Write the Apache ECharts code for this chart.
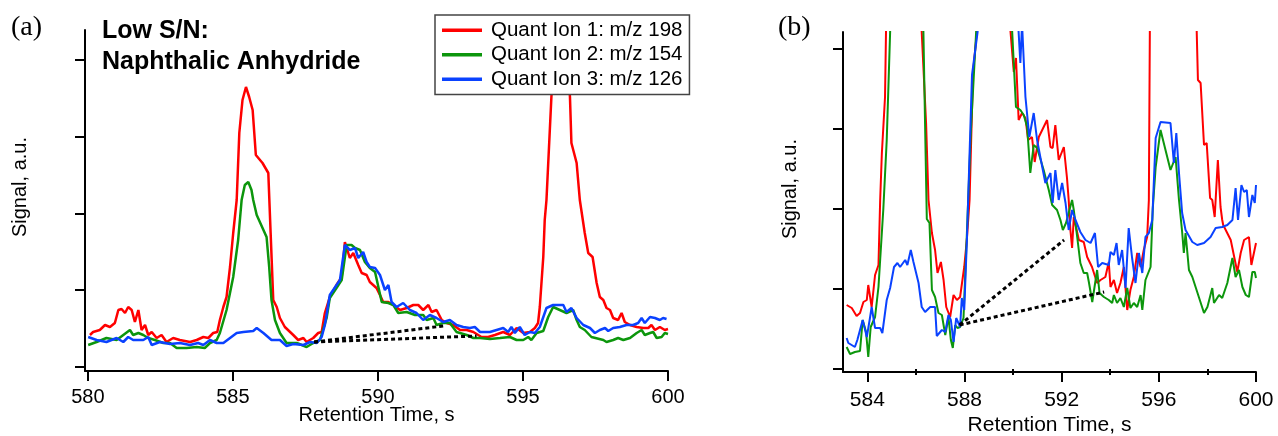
<!DOCTYPE html>
<html>
<head>
<meta charset="utf-8">
<script src="https://cdn.jsdelivr.net/npm/echarts@6/dist/echarts.min.js"></script>
<style>html,body{margin:0;padding:0;background:#fff;}#c{width:1278px;height:436px;}</style>
</head>
<body>
<div id="c"></div>
<script>
// ---------- data ----------
const seriesNames = ['Quant Ion 1: m/z 198', 'Quant Ion 2: m/z 154', 'Quant Ion 3: m/z 126'];
const aXTicks = [580, 585, 590, 595, 600];
const aYTicks = [0, 77, 153, 230, 307];
const bXTicks = [584, 588, 592, 596, 600];
const bXMinorTicks = [586, 590, 594, 598];
const bYTicks = [0, 80, 160, 240, 320];

// panel (a): [retention time s, signal a.u.]
const aRed = [[580.07,32],[580.18,35],[580.41,37],[580.59,42],[580.76,40],[580.93,44],[581.05,57],[581.16,58],[581.28,54],[581.39,60],[581.51,57],[581.62,45],[581.74,57],[581.85,37],[581.97,42],[582.08,32],[582.2,35],[582.37,29],[582.54,32],[582.71,25],[582.94,29],[583.17,27],[583.52,25],[583.75,27],[583.98,30],[584.15,29],[584.32,34],[584.46,35],[584.55,47],[584.67,60],[584.78,70],[584.9,100],[585.01,134],[585.13,167],[585.22,234],[585.33,267],[585.45,280],[585.56,270],[585.68,257],[585.79,212],[586.02,204],[586.22,194],[586.3,134],[586.39,67],[586.51,60],[586.62,49],[586.79,40],[587.08,32],[587.25,27],[587.43,29],[587.54,25],[587.77,29],[587.94,34],[588.06,35],[588.17,54],[588.34,70],[588.57,82],[588.75,90],[588.86,125],[589.03,109],[589.15,114],[589.32,102],[589.44,94],[589.61,92],[589.72,85],[589.95,79],[590.07,72],[590.18,65],[590.36,65],[590.53,62],[590.76,57],[590.99,59],[591.22,62],[591.39,62],[591.56,57],[591.74,62],[591.85,55],[592.02,57],[592.2,47],[592.37,44],[592.6,42],[592.83,37],[593.06,37],[593.29,35],[593.57,30],[593.8,30],[594.03,32],[594.32,35],[594.55,32],[594.78,39],[595.01,34],[595.24,35],[595.41,39],[595.52,44],[595.58,60],[595.7,110],[595.75,147],[595.81,167],[595.98,270],[596.15,345],[596.45,345],[596.62,270],[596.67,224],[596.85,204],[596.96,167],[597.13,134],[597.25,114],[597.4,110],[597.54,84],[597.65,70],[597.77,67],[597.88,59],[598.0,57],[598.11,49],[598.28,47],[598.4,54],[598.51,45],[598.69,42],[598.92,40],[599.15,39],[599.32,39],[599.43,42],[599.55,37],[599.72,40],[599.89,37],[600,38]];
const aGreen = [[580.01,22],[580.3,25],[580.64,29],[580.99,27],[581.22,32],[581.45,37],[581.56,32],[581.74,34],[581.91,32],[582.08,29],[582.31,27],[582.6,24],[582.83,24],[583.06,19],[583.4,19],[583.75,20],[584.03,19],[584.21,24],[584.44,27],[584.55,34],[584.78,57],[585.01,90],[585.18,127],[585.3,167],[585.41,182],[585.53,185],[585.64,177],[585.7,167],[585.82,152],[586.16,130],[586.25,100],[586.33,67],[586.45,47],[586.62,34],[586.85,24],[587.2,24],[587.54,20],[587.77,24],[588.0,27],[588.23,49],[588.34,69],[588.57,79],[588.75,87],[588.92,122],[589.09,122],[589.21,119],[589.38,117],[589.55,105],[589.72,99],[589.9,95],[590.13,65],[590.36,64],[590.53,62],[590.7,54],[590.99,55],[591.28,52],[591.56,52],[591.68,47],[591.91,49],[592.02,42],[592.25,44],[592.48,44],[592.71,35],[593.06,32],[593.29,29],[593.52,29],[593.86,28],[594.21,29],[594.55,30],[594.78,27],[595.01,27],[595.18,30],[595.29,27],[595.47,34],[595.7,36],[595.87,50],[596.04,60],[596.27,57],[596.5,54],[596.73,57],[596.85,47],[596.96,40],[597.13,37],[597.36,30],[597.77,27],[597.88,25],[598.11,27],[598.28,29],[598.46,27],[598.69,29],[598.92,34],[599.09,37],[599.2,32],[599.38,34],[599.49,35],[599.61,29],[599.78,30],[599.89,34],[600,33]];
const aBlue = [[580.01,30],[580.3,27],[580.64,25],[580.99,29],[581.22,25],[581.39,30],[581.56,27],[581.91,27],[582.08,30],[582.2,22],[582.48,25],[582.83,23],[583.17,24],[583.52,22],[583.8,24],[583.98,22],[584.21,27],[584.44,24],[584.67,24],[584.9,29],[585.13,34],[585.36,35],[585.7,36],[585.82,39],[586.05,34],[586.33,27],[586.62,27],[586.85,21],[587.08,23],[587.43,22],[587.66,25],[587.89,24],[588.06,30],[588.17,42],[588.34,72],[588.69,87],[588.86,122],[589.03,117],[589.21,119],[589.32,109],[589.49,115],[589.61,105],[589.72,100],[589.9,99],[590.07,92],[590.24,77],[590.36,82],[590.47,65],[590.64,60],[590.87,64],[591.1,57],[591.33,54],[591.56,47],[591.79,52],[592.02,49],[592.25,45],[592.48,47],[592.71,42],[592.94,40],[593.17,39],[593.34,40],[593.52,35],[593.86,35],[594.09,37],[594.32,39],[594.49,35],[594.6,40],[594.72,34],[594.89,40],[595.06,32],[595.24,35],[595.41,34],[595.58,40],[595.81,59],[596.04,62],[596.39,62],[596.5,55],[596.67,59],[596.85,49],[597.08,42],[597.31,39],[597.48,34],[597.65,37],[597.83,39],[597.94,36],[598.11,39],[598.34,40],[598.57,42],[598.8,42],[598.97,44],[599.09,49],[599.2,44],[599.38,50],[599.55,49],[599.72,47],[599.83,49],[599.95,48]];
const aBaseUpper = [[587.8,25],[592.25,41]];
const aBaseLower = [[587.8,25],[593.4,31]];

// panel (b): expanded view
const bRed = [[583.15,64],[583.36,61],[583.56,53],[583.7,56],[583.84,67],[583.98,69],[584.04,84],[584.18,62],[584.32,94],[584.46,104],[584.53,169],[584.6,216],[584.73,272],[584.77,337],[584.85,520],[586.1,520],[586.24,337],[586.42,246],[586.52,169],[586.66,136],[586.79,119],[586.89,96],[587.03,107],[587.14,89],[587.25,62],[587.41,52],[587.55,74],[587.69,69],[587.82,72],[587.99,102],[588.1,130],[588.21,169],[588.35,296],[588.51,337],[588.6,420],[589.8,420],[589.89,339],[590.03,297],[590.12,311],[590.23,249],[590.37,256],[590.51,251],[590.62,229],[590.78,232],[590.89,207],[591.06,232],[591.4,249],[591.54,222],[591.63,221],[591.74,244],[591.88,209],[592.09,222],[592.22,191],[592.29,169],[592.36,139],[592.43,121],[592.5,152],[592.71,129],[592.91,127],[593.05,112],[593.25,102],[593.46,86],[593.6,89],[593.8,92],[593.94,107],[594.01,82],[594.15,89],[594.28,76],[594.42,86],[594.56,102],[594.7,59],[594.83,79],[594.97,92],[595.11,116],[595.25,102],[595.38,119],[595.52,132],[595.59,169],[595.63,337],[595.7,560],[597.5,560],[597.56,337],[597.61,289],[597.72,286],[597.86,224],[597.97,226],[598.11,171],[598.2,169],[598.3,152],[598.43,209],[598.54,162],[598.61,149],[598.65,144],[598.96,129],[599.23,97],[599.37,116],[599.51,129],[599.71,132],[599.81,104],[600,126]];
const bGreen = [[583.15,22],[583.29,15],[583.49,17],[583.7,18],[583.81,49],[583.95,37],[584.04,12],[584.14,42],[584.32,52],[584.46,82],[584.66,160],[584.8,229],[584.94,337],[585.05,520],[586.2,520],[586.31,337],[586.38,242],[586.45,150],[586.56,146],[586.66,79],[586.79,72],[586.93,56],[587.07,54],[587.21,34],[587.34,52],[587.44,29],[587.52,21],[587.62,44],[587.71,41],[587.82,42],[587.96,51],[588.1,136],[588.26,236],[588.48,337],[588.6,450],[589.85,450],[589.96,339],[590.12,262],[590.3,259],[590.44,254],[590.58,242],[590.71,196],[590.85,224],[590.99,221],[591.26,199],[591.47,179],[591.61,164],[591.81,159],[591.95,149],[592.05,139],[592.18,146],[592.43,169],[592.5,159],[592.64,132],[592.77,106],[592.91,96],[593.05,96],[593.12,87],[593.26,67],[593.46,99],[593.56,76],[593.74,72],[593.94,69],[594.08,66],[594.15,74],[594.28,66],[594.42,71],[594.56,62],[594.7,81],[594.83,61],[594.97,66],[595.11,62],[595.25,74],[595.32,59],[595.45,89],[595.66,102],[595.75,160],[595.87,202],[596.07,239],[596.48,199],[596.69,212],[596.83,169],[596.96,137],[597.03,116],[597.1,136],[597.24,99],[597.38,92],[597.58,77],[597.86,56],[598.0,62],[598.2,81],[598.27,66],[598.48,74],[598.61,71],[598.82,86],[599.03,111],[599.16,92],[599.3,99],[599.44,82],[599.58,74],[599.71,72],[599.85,97],[599.95,97],[600,91]];
const bBlue = [[583.15,31],[583.22,26],[583.49,22],[583.59,29],[583.81,49],[583.98,32],[584.11,51],[584.18,62],[584.32,41],[584.53,41],[584.62,36],[584.8,69],[584.94,81],[585.1,102],[585.24,106],[585.35,102],[585.56,109],[585.65,104],[585.79,119],[585.9,107],[586.11,86],[586.24,62],[586.38,57],[586.59,62],[586.79,62],[586.86,33],[587.07,39],[587.21,37],[587.34,54],[587.44,49],[587.55,27],[587.66,51],[587.82,42],[587.89,71],[587.99,59],[588.1,129],[588.31,294],[588.54,337],[588.65,480],[590.1,480],[590.21,345],[590.3,306],[590.37,345],[590.42,345],[590.51,272],[590.67,232],[590.85,256],[590.99,229],[591.13,211],[591.33,186],[591.54,196],[591.63,166],[591.74,199],[591.88,169],[592.02,186],[592.16,166],[592.29,139],[592.43,159],[592.57,149],[592.77,137],[592.98,129],[593.19,126],[593.37,136],[593.5,102],[593.67,106],[593.94,104],[594.01,117],[594.15,114],[594.26,126],[594.35,104],[594.49,119],[594.63,81],[594.76,141],[594.9,111],[595.04,86],[595.18,116],[595.32,96],[595.45,132],[595.59,136],[595.73,149],[595.87,231],[596.07,247],[596.48,246],[596.62,206],[596.72,236],[596.83,196],[596.96,156],[597.1,139],[597.38,127],[597.58,124],[597.86,126],[598.13,132],[598.34,141],[598.61,142],[598.82,144],[599.03,149],[599.16,181],[599.26,149],[599.4,184],[599.51,177],[599.62,179],[599.71,152],[599.85,174],[599.95,166],[600,184]];
const bBaseUpper = [[587.8,44],[592.1,129]];
const bBaseLower = [[587.8,44],[593.75,77]];

// ---------- chart ----------
const RED = '#ff0000', GREEN = '#0c960c', BLUE = '#0a42ff';
const SANS = '"Liberation Sans", Arial, Helvetica, sans-serif';
const chart = echarts.init(document.getElementById('c'), null, {renderer: 'canvas'});

function xAxisCfg(grid, min, max, ticks, fs, margin, nameGap) {
  return {
    type: 'value', gridIndex: grid, min: min, max: max, position: 'bottom',
    axisLine: {show: true, onZero: false, lineStyle: {color: '#000', width: 2}},
    axisTick: {show: true, customValues: ticks, length: 10, lineStyle: {color: '#000', width: 2}},
    axisLabel: {show: true, customValues: ticks, color: '#000', fontSize: fs, fontFamily: SANS, margin: margin},
    splitLine: {show: false},
    name: 'Retention Time, s', nameLocation: 'middle', nameGap: nameGap, nameMoveOverlap: false,
    nameTextStyle: {color: '#000', fontSize: fs, fontFamily: SANS}
  };
}
function yAxisCfg(grid, min, max, ticks) {
  return {
    type: 'value', gridIndex: grid, min: min, max: max,
    axisLine: {show: true, onZero: false, lineStyle: {color: '#000', width: 2}},
    axisTick: {show: true, customValues: ticks, length: 10, lineStyle: {color: '#000', width: 2}},
    axisLabel: {show: false},
    splitLine: {show: false}
  };
}
function line(name, data, color, width, xi, yi, z) {
  return {
    type: 'line', name: name, data: data, xAxisIndex: xi, yAxisIndex: yi,
    showSymbol: false, symbol: 'none', clip: true, z: z,
    lineStyle: {color: color, width: width}, itemStyle: {color: color}
  };
}
function dotted(data, xi, yi) {
  return {
    type: 'line', data: data, xAxisIndex: xi, yAxisIndex: yi,
    showSymbol: false, symbol: 'none', z: 5,
    lineStyle: {color: '#000', width: 3, type: [4, 3]}
  };
}

const minorAxis = {
  type: 'value', gridIndex: 1, min: 583, max: 600, position: 'bottom',
  axisLine: {show: false},
  axisTick: {show: true, customValues: bXMinorTicks, length: 6, lineStyle: {color: '#000', width: 2}},
  axisLabel: {show: false}, splitLine: {show: false}
};

const option = {
  animation: false,
  backgroundColor: '#fff',
  grid: [
    {left: 85, top: 30, width: 583, height: 341, outerBoundsMode: 'none'},
    {left: 843, top: 32, width: 413, height: 340, outerBoundsMode: 'none'}
  ],
  xAxis: [
    xAxisCfg(0, 579.9, 600, aXTicks, 20, 16, 34),
    xAxisCfg(1, 583, 600, bXTicks, 21, 18, 43),
    minorAxis
  ],
  yAxis: [
    yAxisCfg(0, -4, 337, aYTicks),
    yAxisCfg(1, -3, 337, bYTicks)
  ],
  title: [
    {text: '(a)', left: 11, top: 14, padding: 0,
     textStyle: {fontFamily: '"Liberation Serif", "Times New Roman", serif', fontSize: 28, fontWeight: 'normal', color: '#000'}},
    {text: '(b)', left: 778, top: 14, padding: 0,
     textStyle: {fontFamily: '"Liberation Serif", "Times New Roman", serif', fontSize: 28, fontWeight: 'normal', color: '#000'}},
    {text: 'Low S/N:\nNaphthalic Anhydride', left: 102, top: 16, padding: 0,
     textStyle: {fontFamily: SANS, fontSize: 25, fontWeight: 'bold', lineHeight: 31, color: '#000'}}
  ],
  graphic: [
    {type: 'text', x: 20, y: 187, rotation: Math.PI / 2,
     style: {text: 'Signal, a.u.', fontSize: 20, fontFamily: SANS, fill: '#000', align: 'center', verticalAlign: 'middle'}},
    {type: 'text', x: 790, y: 189, rotation: Math.PI / 2,
     style: {text: 'Signal, a.u.', fontSize: 20, fontFamily: SANS, fill: '#000', align: 'center', verticalAlign: 'middle'}}
  ],
  legend: {
    data: seriesNames, orient: 'vertical', left: 435, top: 15,
    icon: 'rect', itemWidth: 40, itemHeight: 3.5, itemGap: 0,
    padding: [3, 7, 3, 7], borderColor: '#444', borderWidth: 1.5, backgroundColor: '#fff',
    selectedMode: false, z: 20,
    textStyle: {fontSize: 20.5, fontFamily: SANS, color: '#000', lineHeight: 24.5, padding: [0, 0, 0, 4]}
  },
  series: [
    line(seriesNames[0], aRed, RED, 2.5, 0, 0, 2),
    line(seriesNames[1], aGreen, GREEN, 2.5, 0, 0, 3),
    line(seriesNames[2], aBlue, BLUE, 2.5, 0, 0, 4),
    dotted(aBaseUpper, 0, 0),
    dotted(aBaseLower, 0, 0),
    line(seriesNames[0], bRed, RED, 2, 1, 1, 2),
    line(seriesNames[1], bGreen, GREEN, 2, 1, 1, 3),
    line(seriesNames[2], bBlue, BLUE, 2, 1, 1, 4),
    dotted(bBaseUpper, 1, 1),
    dotted(bBaseLower, 1, 1)
  ]
};
chart.setOption(option);
</script>
</body>
</html>
